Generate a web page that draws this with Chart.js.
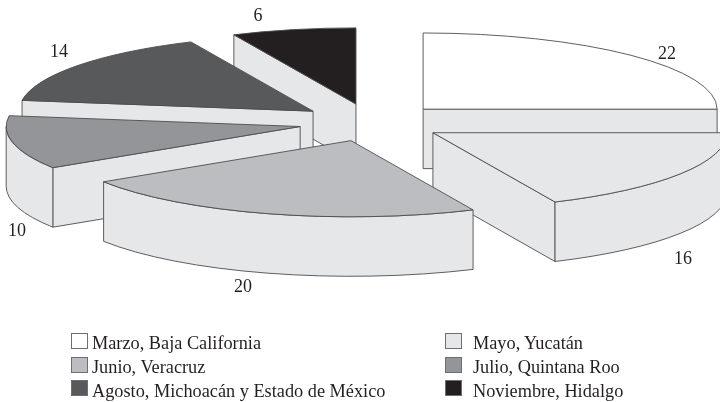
<!DOCTYPE html>
<html lang="es">
<head>
<meta charset="utf-8">
<title>Pie 3D</title>
<script src="https://cdn.jsdelivr.net/npm/chart.js@4"></script>
<style>
  body { margin: 0; background: #fff; }
  #wrap { position: relative; width: 720px; height: 402px; overflow: hidden; }
  canvas { position: absolute; left: 0; top: 0; }
  .key { position: absolute; white-space: nowrap; font: 18.3px "Liberation Serif", serif; color: #231f20; line-height: 20px; }
  .swatch { position: absolute; width: 15px; height: 14px; border: 1.5px solid #6d6e71; box-sizing: content-box; }
</style>
</head>
<body>
<div id="wrap"><canvas id="chart" width="720" height="402"></canvas></div>
<script>
const categories = [
  'Marzo, Baja California',
  'Mayo, Yucatán',
  'Junio, Veracruz',
  'Julio, Quintana Roo',
  'Agosto, Michoacán y Estado de México',
  'Noviembre, Hidalgo',
];
const values = [22, 16, 20, 10, 14, 6];
const colors = ['#ffffff', '#e6e7e9', '#bcbdc0', '#939598', '#58595b', '#231f20'];

const WALL_COLOR = '#e6e7e9';
const LINE_COLOR = '#4d4d4f';
const SQUASH = 0.259;   // vertical flattening of the pie
const EXPLODE = 73;     // how far each slice is pulled out
const DEPTH = 59.5;     // wall height
const drawOrder = [0, 1, 5, 4, 3, 2]; // back to front

// value labels, same order as values
const labelSpots = [[667, 54], [683, 259], [243, 287], [17, 231], [59, 52], [258, 16]];

function strokeFill(ctx, fill) {
  ctx.fillStyle = fill;
  ctx.fill();
  ctx.stroke();
}

const pie3d = {
  id: 'pie3d',
  beforeDatasetDraw(chart) {
    const ctx = chart.ctx;
    const arcs = chart.getDatasetMeta(0).data;
    ctx.save();
    ctx.lineWidth = 0.9;
    ctx.strokeStyle = LINE_COLOR;
    ctx.lineJoin = 'round';

    drawOrder.forEach((i) => {
      const arc = arcs[i];
      const a0 = arc.startAngle;
      const a1 = arc.endAngle;
      const mid = (a0 + a1) / 2;
      const r = arc.outerRadius;
      const cx = arc.x + EXPLODE * Math.cos(mid);
      const cy = arc.y + EXPLODE * SQUASH * Math.sin(mid);
      const ry = r * SQUASH;
      const px = (a) => cx + r * Math.cos(a);
      const py = (a) => cy + ry * Math.sin(a);

      // flat faces of the cut, only the ones turned to the viewer
      const face = (a) => {
        ctx.beginPath();
        ctx.moveTo(cx, cy);
        ctx.lineTo(px(a), py(a));
        ctx.lineTo(px(a), py(a) + DEPTH);
        ctx.lineTo(cx, cy + DEPTH);
        ctx.closePath();
        strokeFill(ctx, WALL_COLOR);
      };
      if (Math.cos(a0) < -1e-6) face(a0);
      if (Math.cos(a1) > 1e-6) face(a1);

      // outer wall, front half only
      const from = Math.max(a0, 0);
      const to = Math.min(a1, Math.PI);
      if (to > from) {
        ctx.beginPath();
        ctx.ellipse(cx, cy, r, ry, 0, from, to);
        ctx.lineTo(px(to), py(to) + DEPTH);
        ctx.ellipse(cx, cy + DEPTH, r, ry, 0, to, from, true);
        ctx.closePath();
        strokeFill(ctx, WALL_COLOR);
      }

      // top face: the library's arc under a squashed transform
      ctx.save();
      ctx.translate(cx, cy);
      ctx.scale(1, SQUASH);
      ctx.translate(-arc.x, -arc.y);
      arc.draw(ctx);
      ctx.restore();

      ctx.beginPath();
      ctx.moveTo(cx, cy);
      ctx.ellipse(cx, cy, r, ry, 0, a0, a1);
      ctx.closePath();
      ctx.stroke();
    });
    ctx.restore();
    return false;
  },
  afterDraw(chart) {
    const ctx = chart.ctx;
    ctx.save();
    ctx.font = '18px "Liberation Serif", serif';
    ctx.fillStyle = '#231f20';
    ctx.textAlign = 'center';
    ctx.textBaseline = 'middle';
    values.forEach((v, i) => ctx.fillText(String(v), labelSpots[i][0], labelSpots[i][1]));
    ctx.restore();
  },
};

new Chart(document.getElementById('chart'), {
  type: 'pie',
  data: {
    labels: categories,
    datasets: [{ data: values, backgroundColor: colors, borderWidth: 0 }],
  },
  options: {
    responsive: false,
    animation: false,
    events: [],
    radius: 294,
    layout: { padding: { left: 23, bottom: 157 } },
    plugins: { legend: { display: false }, tooltip: { enabled: false } },
  },
  plugins: [pie3d],
});

// legend, two columns
const wrap = document.getElementById('wrap');
categories.forEach((name, i) => {
  const col = i % 2;
  const row = Math.floor(i / 2);
  const swatch = document.createElement('div');
  swatch.className = 'swatch';
  swatch.style.left = (col ? 445 : 71) + 'px';
  swatch.style.top = 333 + row * 23.5 + 'px';
  swatch.style.background = colors[i];
  wrap.appendChild(swatch);
  const key = document.createElement('div');
  key.className = 'key';
  key.textContent = name;
  key.style.left = (col ? 473 : 92) + 'px';
  key.style.top = 333 + row * 24 + 'px';
  wrap.appendChild(key);
});
</script>
</body>
</html>
